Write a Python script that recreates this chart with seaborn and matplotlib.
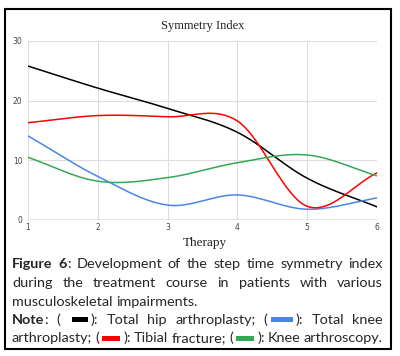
import numpy as np
import pandas as pd
import matplotlib
matplotlib.use("Agg")
import matplotlib.pyplot as plt
import seaborn as sns
from matplotlib.patches import Rectangle

# values (step time symmetry index per therapy session)
therapy = [1, 2, 3, 4, 5, 6]
hip = [25.8, 22.1, 18.7, 14.7, 7.0, 2.2]
knee = [14.1, 7.3, 2.5, 4.2, 1.8, 3.7]
tibial = [16.3, 17.5, 17.3, 16.6, 2.3, 7.9]
arthroscopy = [10.5, 6.5, 7.1, 9.6, 10.9, 7.4]

series_names = ["Total hip arthroplasty", "Total knee arthroplasty",
                "Tibial fracture", "Knee arthroscopy"]
series_colors = ["#000000", "#4a86e8", "#ff0000", "#34a853"]
y_ticks = [0, 10, 20, 30]

W, H = 400, 356


def smooth(x, y, n=40):
    """Catmull-Rom style curve through the points (like curveType 'function')"""
    x = np.asarray(x, float)
    y = np.asarray(y, float)
    m = np.gradient(y, x)
    xs, ys = [], []
    for i in range(len(x) - 1):
        h = x[i + 1] - x[i]
        t = np.linspace(0, 1, n, endpoint=(i == len(x) - 2))
        h00 = 2 * t**3 - 3 * t**2 + 1
        h10 = t**3 - 2 * t**2 + t
        h01 = -2 * t**3 + 3 * t**2
        h11 = t**3 - t**2
        xs.append(x[i] + t * h)
        ys.append(h00 * y[i] + h10 * h * m[i] + h01 * y[i + 1] + h11 * h * m[i + 1])
    return np.concatenate(xs), np.concatenate(ys)


def px(x, y):
    return x / W, 1 - y / H


frames = []
for name, vals in zip(series_names, [hip, knee, tibial, arthroscopy]):
    sx, sy = smooth(therapy, vals)
    frames.append(pd.DataFrame({"therapy": sx, "value": sy, "series": name}))
df = pd.concat(frames, ignore_index=True)

sns.set_style("white")
fig = plt.figure(figsize=(W / 100, H / 100), dpi=100)
ax = fig.add_axes([28 / W, 1 - 220 / H, (377 - 28) / W, (220 - 41) / H])

sns.lineplot(data=df, x="therapy", y="value", hue="series",
             palette=dict(zip(series_names, series_colors)),
             estimator=None, sort=False, legend=False, lw=1.1, ax=ax)

ax.set_xlim(1, 6)
ax.set_ylim(0, 30)
ax.set_xticks(therapy)
ax.set_yticks(y_ticks)
ax.grid(True, color="#dddddd", lw=0.8)
ax.set_axisbelow(True)
for s in ax.spines.values():
    s.set_visible(False)
ax.axhline(0, color="#888888", lw=1.0, zorder=1)
ax.tick_params(axis="both", length=0, labelsize=5.5, labelcolor="#444444")
ax.tick_params(axis="y", pad=4)
ax.tick_params(axis="x", pad=2.5)
ax.set_xlabel("")
ax.set_ylabel("")

serif = ["Liberation Serif", "DejaVu Serif"]
fig.text(*px(203, 26), "Symmetry Index", ha="center", va="center",
         family=serif, fontsize=9, color="#222222")
fig.text(*px(205, 243), "Therapy", ha="center", va="center",
         family=serif, fontsize=9.5, color="#222222")

# outer frame
x0, y0 = px(5, 349)
x1, y1 = px(391, 9)
fig.add_artist(Rectangle((x0, y0), x1 - x0, y1 - y0, transform=fig.transFigure,
                         fill=False, ec="black", lw=1.5))

# caption, justified like the journal layout
cap_font = "Lato"
cap_size = 10.4
renderer = fig.canvas.get_renderer()


def word(*parts):
    return list(parts)


def T(s, bold=False):
    return ("t", s, bold)


def S(color, w):
    return ("s", color, w)


def measure(part):
    if part[0] == "s":
        return part[2] + 6
    t = fig.text(0, 0, part[1], family=cap_font, fontsize=cap_size,
                 fontweight="bold" if part[2] else "normal")
    w = t.get_window_extent(renderer).width
    t.remove()
    return w


def place_line(words, base_y, left=12, right=383, justify=True):
    widths = [[measure(p) for p in w] for w in words]
    totals = [sum(ws) for ws in widths]
    space = measure(T(" ")) if not justify else (right - left - sum(totals)) / (len(words) - 1)
    x = left
    for w, ws in zip(words, widths):
        for p, pw in zip(w, ws):
            if p[0] == "t":
                fig.text(*px(x, base_y), p[1], family=cap_font, fontsize=cap_size,
                         fontweight="bold" if p[2] else "normal", va="baseline")
            else:
                rx, ry = px(x + 3, base_y - 2)
                fig.add_artist(Rectangle((rx, ry), p[2] / W, 5 / H,
                                         transform=fig.transFigure, fc=p[1],
                                         ec="none", joinstyle="miter"))
            x += pw
        x += space


def plain(s):
    return [word(T(w)) for w in s.split()]


lines = [
    ([word(T("Figure", True)), word(T("6", True), T(":"))] +
     plain("Development of the step time symmetry index"), True),
    (plain("during the treatment course in patients with various"), True),
    (plain("musculoskeletal impairments."), False),
    ([word(T("Note", True), T(":")), word(T("(")), word(S(series_colors[0], 16), T("):"))] +
     plain("Total hip arthroplasty;") +
     [word(T("("), S(series_colors[1], 22), T("):"))] + plain("Total knee"), True),
    (plain("arthroplasty;") + [word(T("("), S(series_colors[2], 18), T("):"))] +
     plain("Tibial fracture;") + [word(T("("), S(series_colors[3], 18), T("):"))] +
     plain("Knee arthroscopy."), True),
]
baselines = [268.5, 287, 305.5, 324, 342.5]
for (words, just), by in zip(lines, baselines):
    place_line(words, by, justify=just)

fig.savefig("out.png", dpi=100)
